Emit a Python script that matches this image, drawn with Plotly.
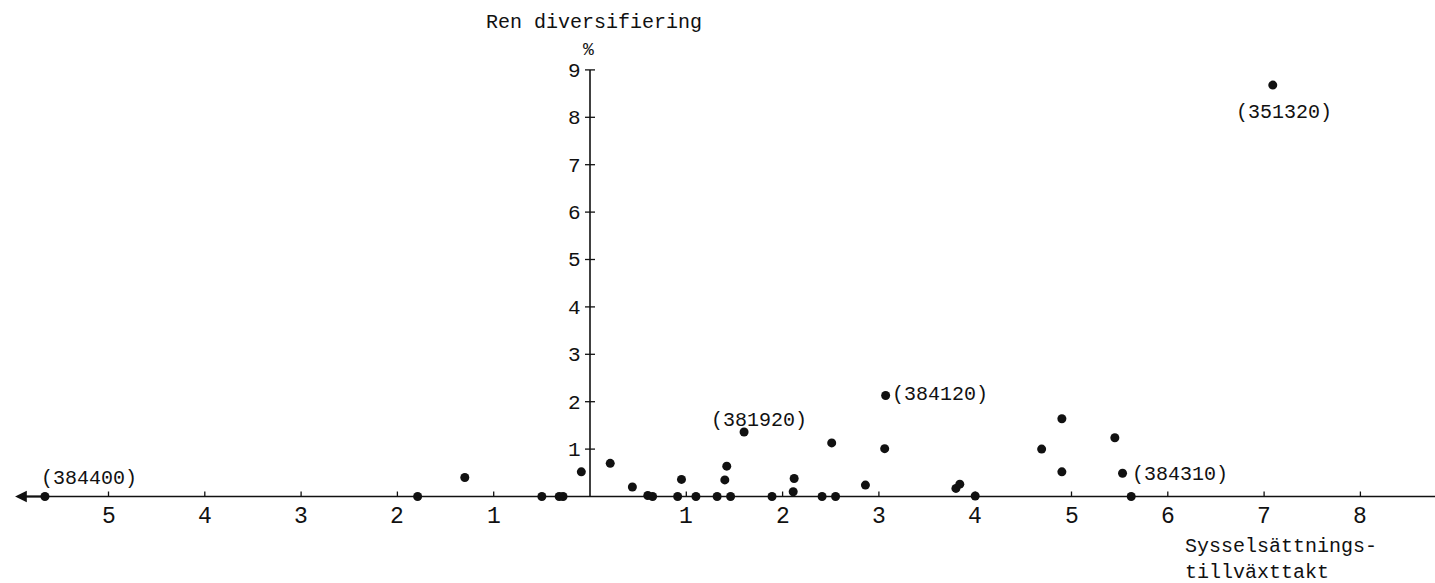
import plotly.graph_objects as go

# ---- data -------------------------------------------------------------
x_vals = [-5.66, -1.79, -1.30, -0.50, -0.32, -0.28, -0.09,
          0.21, 0.44, 0.60, 0.65, 0.91, 0.95, 1.10, 1.32, 1.40, 1.42, 1.46,
          1.60, 1.89, 2.11, 2.12, 2.41, 2.51, 2.55, 2.86, 3.06, 3.07,
          3.80, 3.84, 4.00, 4.69, 4.90, 4.90, 5.45, 5.53, 5.62, 7.09]
y_vals = [0.00, 0.00, 0.40, 0.00, 0.00, 0.00, 0.52,
          0.70, 0.20, 0.02, 0.00, 0.00, 0.36, 0.00, 0.00, 0.35, 0.64, 0.00,
          1.36, 0.00, 0.10, 0.38, 0.00, 1.13, 0.00, 0.24, 1.01, 2.13,
          0.17, 0.26, 0.01, 1.00, 1.64, 0.52, 1.24, 0.49, 0.00, 8.68]

point_labels = ["(384400)", "(381920)", "(384120)", "(384310)", "(351320)"]
label_x = [-5.72, 1.24, 3.12, 5.61, 6.69]
label_y = [0.39, 1.61, 2.16, 0.47, 8.11]

x_ticks = [-5, -4, -3, -2, -1, 1, 2, 3, 4, 5, 6, 7, 8]
x_tick_text = ["5", "4", "3", "2", "1", "1", "2", "3", "4", "5", "6", "7", "8"]
y_ticks = [1, 2, 3, 4, 5, 6, 7, 8, 9]
y_tick_text = [str(v) for v in y_ticks]

y_title = "Ren diversifiering"
y_unit = "%"
x_title = ["Sysselsättnings-", "tillväxttakt"]

# ---- geometry ---------------------------------------------------------
W, H = 1435, 583
UX, X0PX = 96.3, 590.0
UY, Y0PX = 47.4, 496.5
xr = [-X0PX / UX, (W - X0PX) / UX]
yr = [-(H - Y0PX) / UY, Y0PX / UY]

FONT = "Liberation Mono"
BLACK = "#111111"

fig = go.Figure()
fig.add_trace(go.Scatter(x=x_vals, y=y_vals, mode="markers",
                         marker=dict(size=9, color=BLACK),
                         showlegend=False, hoverinfo="x+y"))

shapes = []
# axis lines
shapes.append(dict(type="line", xref="x", yref="y", x0=-5.9, x1=xr[1], y0=0, y1=0,
                   line=dict(color=BLACK, width=1.6)))
shapes.append(dict(type="line", xref="x", yref="y", x0=0, x1=0, y0=0, y1=9,
                   line=dict(color=BLACK, width=1.6)))
# x ticks (small upward marks)
for t in x_ticks:
    shapes.append(dict(type="line", xref="x", yref="y", xsizemode="scaled",
                       ysizemode="pixel", yanchor=0, x0=t, x1=t, y0=0, y1=5,
                       line=dict(color=BLACK, width=1.3)))
# y ticks (crossing marks)
for t in y_ticks:
    shapes.append(dict(type="line", xref="x", yref="y", xsizemode="pixel",
                       xanchor=0, x0=-5, x1=5, y0=t, y1=t,
                       line=dict(color=BLACK, width=1.3)))

ann = []
for t, s in zip(x_ticks, x_tick_text):
    ann.append(dict(x=t, y=-0.44, xref="x", yref="y", text=s, showarrow=False,
                    xanchor="center", yanchor="middle",
                    font=dict(family=FONT, size=23, color=BLACK)))
for t, s in zip(y_ticks, y_tick_text):
    ann.append(dict(x=-0.07, y=t - 0.03, xref="x", yref="y", text=s, showarrow=False,
                    xanchor="right", yanchor="middle",
                    font=dict(family=FONT, size=21, color=BLACK)))
for s, lx, ly in zip(point_labels, label_x, label_y):
    ann.append(dict(x=lx, y=ly, xref="x", yref="y", text=s, showarrow=False,
                    xanchor="left", yanchor="middle",
                    font=dict(family=FONT, size=20, color=BLACK)))
ann.append(dict(x=-1.1, y=10.01, xref="x", yref="y", text=y_title, showarrow=False,
                xanchor="left", yanchor="middle",
                font=dict(family=FONT, size=20, color=BLACK)))
ann.append(dict(x=-0.02, y=9.42, xref="x", yref="y", text=y_unit, showarrow=False,
                xanchor="center", yanchor="middle",
                font=dict(family=FONT, size=18, color=BLACK)))
ann.append(dict(x=6.16, y=-1.06, xref="x", yref="y", text=x_title[0], showarrow=False,
                xanchor="left", yanchor="middle",
                font=dict(family=FONT, size=20, color=BLACK)))
ann.append(dict(x=6.16, y=-1.60, xref="x", yref="y", text=x_title[1], showarrow=False,
                xanchor="left", yanchor="middle",
                font=dict(family=FONT, size=20, color=BLACK)))
# left arrow head on x axis
ann.append(dict(x=-5.97, y=0, ax=-5.6, ay=0, xref="x", yref="y", axref="x", ayref="y",
                text="", showarrow=True, arrowhead=2, arrowsize=1.3, arrowwidth=1.8,
                arrowcolor=BLACK))

fig.update_layout(
    width=W, height=H,
    margin=dict(l=0, r=0, t=0, b=0),
    paper_bgcolor="white", plot_bgcolor="white",
    xaxis=dict(range=xr, visible=False, fixedrange=True),
    yaxis=dict(range=yr, visible=False, fixedrange=True),
    shapes=shapes, annotations=ann, showlegend=False,
)
fig.write_html("out.html")
